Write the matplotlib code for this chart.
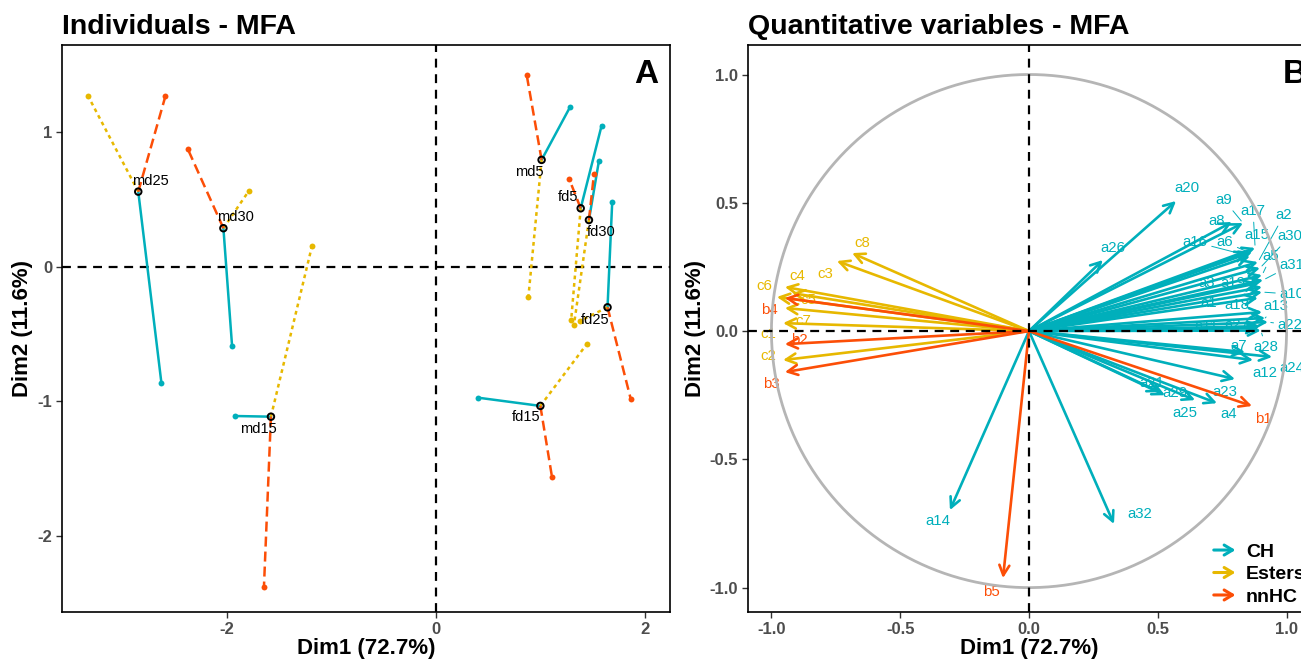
import numpy as np
import matplotlib
matplotlib.use("Agg")
import matplotlib.pyplot as plt
from matplotlib.patches import FancyArrowPatch, Patch
from matplotlib.legend_handler import HandlerPatch

plt.rcParams["font.family"] = ["Liberation Sans", "DejaVu Sans"]
plt.rcParams["axes.unicode_minus"] = False

# ---- data: individuals (panel A) ----
ind_names = ["md5", "md15", "md25", "md30", "fd5", "fd15", "fd25", "fd30"]
center_x = [1.011, -1.58, -2.85, -2.035, 1.385, 0.999, 1.642, 1.464]
center_y = [0.796, -1.113, 0.56, 0.288, 0.436, -1.033, -0.300, 0.349]
ch_x = [1.282, -1.925, -2.628, -1.952, 1.585, 0.405, 1.687, 1.56]
ch_y = [1.187, -1.108, -0.865, -0.587, 1.05, -0.972, 0.486, 0.79]
est_x = [0.884, -1.187, -3.33, -1.79, 1.294, 1.445, 1.374, 1.32]
est_y = [-0.226, 0.156, 1.27, 0.567, -0.394, -0.572, -0.402, -0.433]
nn_x = [0.868, -1.647, -2.59, -2.376, 1.276, 1.11, 1.865, 1.512]
nn_y = [1.428, -2.38, 1.27, 0.877, 0.652, -1.559, -0.984, 0.69]
ind_lab_x = [0.893, -1.703, -2.73, -1.923, 1.266, 0.861, 1.52, 1.586]
ind_lab_y = [0.704, -1.204, 0.64, 0.37, 0.523, -1.118, -0.394, 0.263]

# ---- data: variables (panel B) ----
ch_vars = ["a%d" % i for i in range(1, 33)]
ch_dx = [0.889, 0.889, 0.889, 0.730, 0.905, 0.850, 0.839, 0.788, 0.831, 0.905,
         0.897, 0.870, 0.917, -0.307, 0.866, 0.858, 0.878, 0.905, 0.905, 0.571,
         0.509, 0.928, 0.800, 0.944, 0.645, 0.287, 0.893, 0.900, 0.528, 0.897,
         0.909, 0.330]
ch_dy = [0.129, 0.269, 0.187, -0.281, 0.218, 0.308, -0.082, 0.425, 0.421, 0.152,
         0.019, -0.113, 0.051, -0.698, 0.308, 0.292, 0.324, 0.074, 0.172, 0.507,
         -0.238, 0.035, -0.187, -0.101, -0.269, 0.277, 0.012, 0.002, -0.250, 0.246,
         0.199, -0.752]
ch_lx = [0.699, 0.990, 0.690, 0.777, 0.940, 0.761, 0.816, 0.730, 0.757, 1.021,
         0.690, 0.917, 0.959, -0.353, 0.885, 0.645, 0.870, 0.808, 0.790, 0.614,
         0.478, 1.014, 0.761, 1.021, 0.606, 0.326, 0.808, 0.920, 0.567, 1.014,
         1.021, 0.431]
ch_ly = [0.109, 0.452, 0.187, -0.324, 0.292, 0.347, -0.058, 0.429, 0.511, 0.144,
         0.019, -0.164, 0.097, -0.741, 0.374, 0.347, 0.468, 0.101, 0.187, 0.558,
         -0.203, 0.023, -0.238, -0.144, -0.320, 0.324, 0.023, -0.062, -0.240, 0.370,
         0.257, -0.713]

nn_vars = ["b1", "b2", "b3", "b4", "b5"]
nn_dx = [0.866, -0.948, -0.948, -0.948, -0.101]
nn_dy = [-0.292, -0.051, -0.160, 0.129, -0.963]
nn_lx = [0.909, -0.893, -1.002, -1.006, -0.144]
nn_ly = [-0.343, -0.035, -0.207, 0.082, -1.018]

est_vars = ["c1", "c2", "c3", "c4", "c5", "c6", "c7", "c8"]
est_dx = [-0.948, -0.955, -0.746, -0.948, -0.920, -0.979, -0.955, -0.687]
est_dy = [0.090, -0.113, 0.273, 0.172, 0.148, 0.133, 0.031, 0.304]
est_lx = [-1.014, -1.014, -0.792, -0.901, -0.858, -1.029, -0.878, -0.649]
est_ly = [-0.012, -0.097, 0.222, 0.214, 0.121, 0.175, 0.039, 0.343]

# labels that were pushed away from their arrow and got a leader segment
leader_vars = ["a2", "a5", "a6", "a9", "a10", "a13", "a16", "a17", "a18",
               "a22", "a28", "a30", "a31"]

groups = ["CH", "Esters", "nnHC"]
colors = {"CH": "#00AFBB", "Esters": "#E7B800", "nnHC": "#FC4E07"}
styles = {"CH": "-", "Esters": (0, (1.5, 1.5)), "nnHC": (0, (4, 2))}

TICK_COL = "#4D4D4D"


def style_axes(ax):
    for s in ax.spines.values():
        s.set_linewidth(1.2)
    ax.tick_params(length=4, width=1.0, color="#333333", labelsize=12,
                   labelcolor=TICK_COL, pad=3)
    for lab in ax.get_xticklabels() + ax.get_yticklabels():
        lab.set_fontweight("bold")


fig = plt.figure(figsize=(13.01, 6.62), dpi=100)

# ================= panel A =================
axA = fig.add_axes([62 / 1301, 50 / 662, 608 / 1301, 567 / 662])
axA.set_xlim(-3.58, 2.24)
axA.set_ylim(-2.565, 1.65)
axA.axhline(0, color="black", ls=(0, (4, 3)), lw=1.6, zorder=1)
axA.axvline(0, color="black", ls=(0, (4, 3)), lw=1.6, zorder=1)

partial = {"CH": (ch_x, ch_y), "Esters": (est_x, est_y), "nnHC": (nn_x, nn_y)}
for g in groups:
    gx, gy = partial[g]
    for i in range(len(ind_names)):
        axA.plot([center_x[i], gx[i]], [center_y[i], gy[i]], color=colors[g],
                 ls=styles[g], lw=1.8, zorder=2)
    axA.scatter(gx, gy, s=18, color=colors[g], zorder=3, linewidths=0)

axA.scatter(center_x, center_y, s=22, facecolors="none", edgecolors="black",
            linewidths=1.4, zorder=4)
for i, n in enumerate(ind_names):
    axA.text(ind_lab_x[i], ind_lab_y[i], n, fontsize=10.5, ha="center",
             va="center", zorder=5)

axA.set_xticks([-2, 0, 2])
axA.set_yticks([1, 0, -1, -2])
axA.set_xlabel("Dim1 (72.7%)", fontsize=16, fontweight="bold", labelpad=1)
axA.set_ylabel("Dim2 (11.6%)", fontsize=16, fontweight="bold", labelpad=3)
axA.set_title("Individuals - MFA", loc="left", fontsize=20.5, fontweight="bold", pad=8)
axA.text(0.980, 0.975, "A", transform=axA.transAxes, ha="right", va="top",
         fontsize=24, fontweight="bold")
style_axes(axA)

# ================= panel B =================
axB = fig.add_axes([748 / 1301, 50 / 662, 562 / 1301, 567 / 662])
axB.set_xlim(-1.091, 1.091)
axB.set_ylim(-1.095, 1.115)

theta = np.linspace(0, 2 * np.pi, 400)
axB.plot(np.cos(theta), np.sin(theta), color="#B5B5B5", lw=2, zorder=2.5)
axB.axhline(0, color="black", ls=(0, (4, 3)), lw=1.6, zorder=3.5)
axB.axvline(0, color="black", ls=(0, (4, 3)), lw=1.6, zorder=3.5)

var_sets = [
    ("CH", ch_vars, ch_dx, ch_dy, ch_lx, ch_ly),
    ("Esters", est_vars, est_dx, est_dy, est_lx, est_ly),
    ("nnHC", nn_vars, nn_dx, nn_dy, nn_lx, nn_ly),
]
for g, names, dx, dy, lx, ly in var_sets:
    c = colors[g]
    for i, n in enumerate(names):
        axB.annotate("", xy=(dx[i], dy[i]), xytext=(0, 0),
                     arrowprops=dict(arrowstyle="->,head_length=0.6,head_width=0.3",
                                     color=c, lw=1.9, shrinkA=0, shrinkB=0,
                                     mutation_scale=12), zorder=3)
        props = None
        if n in leader_vars:
            props = dict(arrowstyle="-", color=c, lw=0.7, shrinkA=1, shrinkB=2)
        axB.annotate(n, xy=(dx[i], dy[i]), xytext=(lx[i], ly[i]), textcoords="data",
                     ha="center", va="center", fontsize=10.8, color=c,
                     arrowprops=props, zorder=2)

axB.set_xticks([-1.0, -0.5, 0.0, 0.5, 1.0])
axB.set_yticks([-1.0, -0.5, 0.0, 0.5, 1.0])
axB.set_xticklabels(["%.1f" % v for v in axB.get_xticks()])
axB.set_yticklabels(["%.1f" % v for v in axB.get_yticks()])
axB.set_xlabel("Dim1 (72.7%)", fontsize=16, fontweight="bold", labelpad=1)
axB.set_ylabel("Dim2 (11.6%)", fontsize=16, fontweight="bold", labelpad=3)
axB.set_title("Quantitative variables - MFA", loc="left", fontsize=20.5,
              fontweight="bold", pad=8)
axB.text(0.952, 0.975, "B", transform=axB.transAxes, ha="left", va="top",
         fontsize=24, fontweight="bold")
style_axes(axB)


class ArrowHandler(HandlerPatch):
    def create_artists(self, legend, orig_handle, xdescent, ydescent, width,
                       height, fontsize, trans):
        y = height / 2 - ydescent
        p = FancyArrowPatch((-xdescent, y), (width - xdescent, y),
                            arrowstyle="->,head_length=0.5,head_width=0.3",
                            mutation_scale=12, lw=2.2,
                            color=orig_handle.get_facecolor())
        p.set_transform(trans)
        return [p]


handles = [Patch(color=colors[g]) for g in groups]
leg = axB.legend(handles, groups, loc="upper left", bbox_to_anchor=(0.81, 0.135),
                 frameon=False, handler_map={Patch: ArrowHandler()},
                 handlelength=1.4, handletextpad=0.4, labelspacing=0.25,
                 borderaxespad=0, prop={"size": 14, "weight": "bold"})

fig.savefig("out.png", dpi=100)
